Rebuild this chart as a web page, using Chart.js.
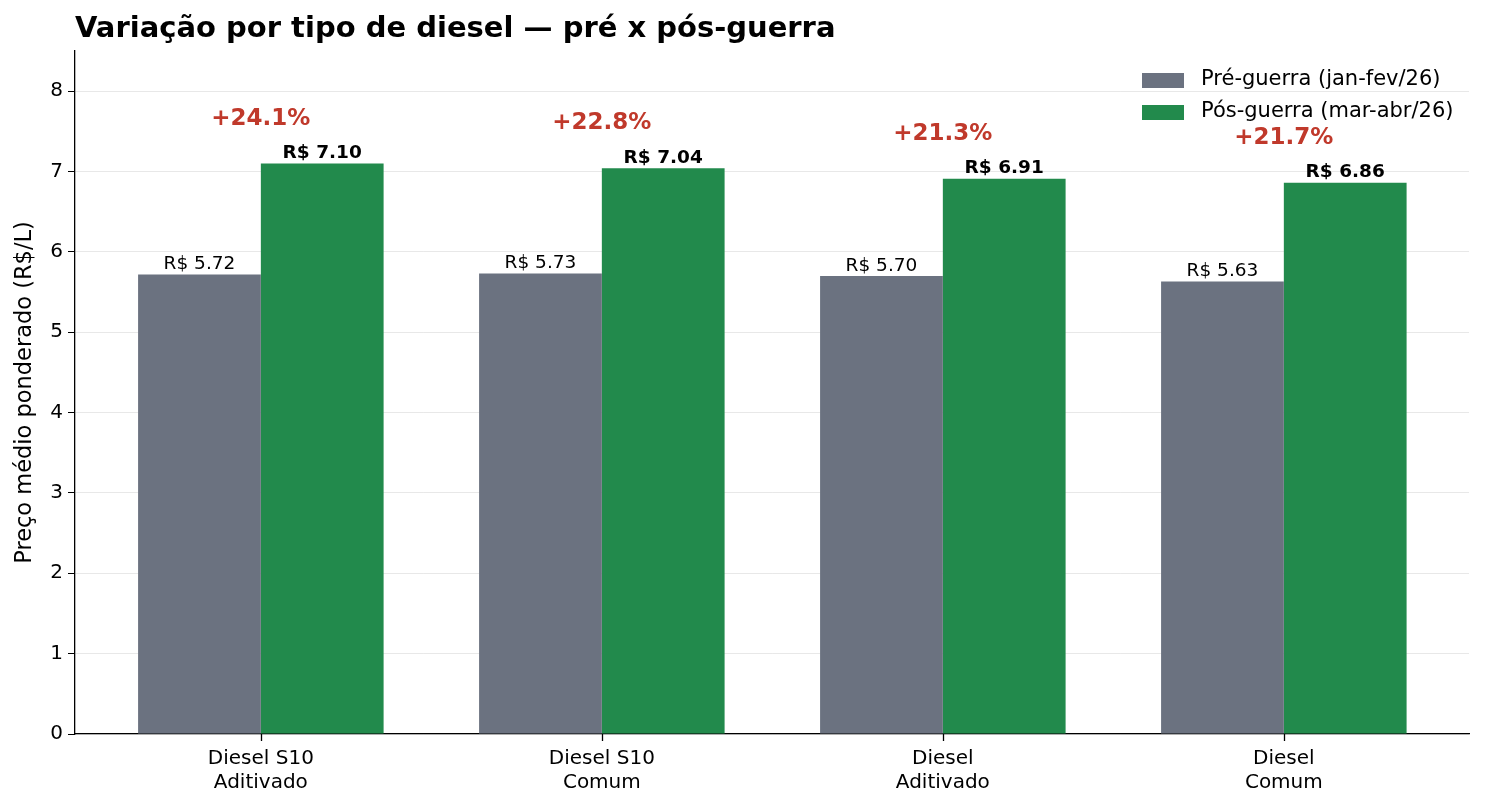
<!DOCTYPE html>
<html>
<head>
<meta charset="utf-8">
<script src="https://cdn.jsdelivr.net/npm/chart.js@4.4.1/dist/chart.umd.min.js"></script>
<style>
  html, body { margin: 0; padding: 0; background: #fff; }
  #wrap { width: 1485px; height: 807px; }
</style>
</head>
<body>
<div id="wrap"><canvas id="grafico"></canvas></div>
<script>
// dados
var categorias = [['Diesel S10', 'Aditivado'], ['Diesel S10', 'Comum'], ['Diesel', 'Aditivado'], ['Diesel', 'Comum']];
var precoPre = [5.72, 5.73, 5.70, 5.63];
var precoPos = [7.10, 7.04, 6.91, 6.86];
var variacao = [24.1, 22.8, 21.3, 21.7];
var nomesSeries = ['Pré-guerra (jan-fev/26)', 'Pós-guerra (mar-abr/26)'];
var ticksY = [0, 1, 2, 3, 4, 5, 6, 7, 8];

var FONTE = 'DejaVu Sans';
var corPre = '#6b7280';
var corPos = '#228a4c';
var corVar = '#c0392b';

// pontos {x: índice da categoria, y: valor}
function paraPontos(valores) {
    return valores.map(function(v, i) { return { x: i, y: v }; });
}

// Plugin: título, legenda, marcas do eixo x e rótulos das barras
var plugExtras = {
    id: 'extras',
    afterDraw: function(chart) {
        var ctx = chart.ctx;
        var area = chart.chartArea;
        ctx.save();

        // título alinhado à esquerda do eixo
        ctx.fillStyle = '#000';
        ctx.font = 'bold 29px "' + FONTE + '"';
        ctx.textAlign = 'left';
        ctx.textBaseline = 'middle';
        ctx.fillText('Variação por tipo de diesel — pré x pós-guerra', area.left, 29);

        // marcas do eixo x no centro de cada categoria
        var escalaX = chart.scales.x;
        ctx.strokeStyle = '#000';
        ctx.lineWidth = 1.3;
        for (var t = 0; t < categorias.length; t++) {
            var px = Math.round(escalaX.getPixelForValue(t)) + 0.5;
            ctx.beginPath();
            ctx.moveTo(px, area.bottom);
            ctx.lineTo(px, area.bottom + 7);
            ctx.stroke();
        }

        // rótulos de valor
        var metaPre = chart.getDatasetMeta(0);
        var metaPos = chart.getDatasetMeta(1);
        var escalaY = chart.scales.y;
        ctx.textAlign = 'center';
        for (var i = 0; i < precoPre.length; i++) {
            var b1 = metaPre.data[i];
            var b2 = metaPos.data[i];
            ctx.textBaseline = 'bottom';
            ctx.fillStyle = '#000';
            ctx.font = '18.5px "' + FONTE + '"';
            ctx.fillText('R$ ' + precoPre[i].toFixed(2), b1.x, b1.y - 1);
            ctx.font = 'bold 18.5px "' + FONTE + '"';
            ctx.fillText('R$ ' + precoPos[i].toFixed(2), b2.x, b2.y - 1);

            // variação percentual acima do par
            var maior = Math.max(precoPre[i], precoPos[i]);
            var cx = (b1.x + b2.x) / 2;
            ctx.fillStyle = corVar;
            ctx.font = 'bold 23px "' + FONTE + '"';
            ctx.textBaseline = 'middle';
            ctx.fillText('+' + variacao[i].toFixed(1) + '%', cx, escalaY.getPixelForValue(maior + 0.57) + 1);
        }

        // legenda no canto superior direito
        var cores = [corPre, corPos];
        ctx.font = '21px "' + FONTE + '"';
        ctx.textAlign = 'left';
        ctx.textBaseline = 'middle';
        for (var k = 0; k < nomesSeries.length; k++) {
            var ly = 80 + k * 32;
            ctx.fillStyle = cores[k];
            ctx.fillRect(1142, ly - 7, 42, 15);
            ctx.fillStyle = '#000';
            ctx.fillText(nomesSeries[k], 1201, ly);
        }
        ctx.restore();
    }
};

var ctx = document.getElementById('grafico').getContext('2d');
var grafico = new Chart(ctx, {
    type: 'bar',
    data: {
        datasets: [{
            label: nomesSeries[0],
            data: paraPontos(precoPre),
            backgroundColor: corPre
        }, {
            label: nomesSeries[1],
            data: paraPontos(precoPos),
            backgroundColor: corPos
        }]
    },
    options: {
        responsive: true,
        maintainAspectRatio: false,
        animation: false,
        devicePixelRatio: 1,
        categoryPercentage: 0.72,
        barPercentage: 1,
        layout: { padding: { top: 51, right: 16, left: 0, bottom: 0 } },
        plugins: {
            legend: { display: false },
            tooltip: { enabled: false }
        },
        scales: {
            x: {
                type: 'linear',
                min: -0.545,
                max: 3.543,
                offset: false,
                grid: { display: false },
                border: { color: '#000', width: 1.3 },
                ticks: {
                    color: '#000', font: { family: FONTE, size: 20 }, padding: 5, maxRotation: 0,
                    callback: function(v) { return categorias[v]; }
                },
                afterBuildTicks: function(s) {
                    s.ticks = categorias.map(function(c, i) { return { value: i }; });
                },
                afterFit: function(s) { s.height = 73; }
            },
            y: {
                min: 0,
                max: 8.5,
                z: 1,
                grid: { color: 'rgba(0,0,0,0.09)', tickColor: '#000', tickLength: 7 },
                border: { color: '#000', width: 1.3 },
                ticks: { stepSize: 1, color: '#000', font: { family: FONTE, size: 20 }, padding: 5 },
                afterBuildTicks: function(s) {
                    s.ticks = ticksY.map(function(v) { return { value: v }; });
                },
                title: {
                    display: true,
                    text: 'Preço médio ponderado (R$/L)',
                    color: '#000',
                    font: { family: FONTE, size: 22.5 },
                    padding: { top: 12, bottom: 0 }
                },
                afterFit: function(s) { s.width = 75; }
            }
        }
    },
    plugins: [plugExtras]
});
</script>
</body>
</html>
